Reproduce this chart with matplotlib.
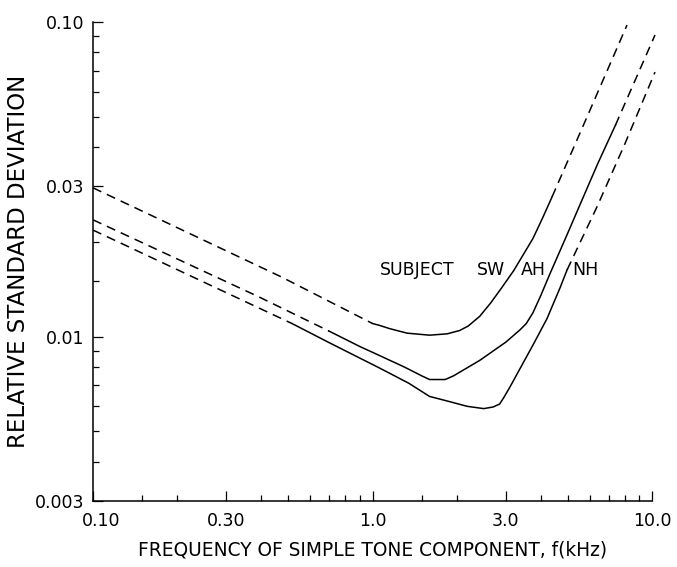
import matplotlib
matplotlib.use("Agg")
import matplotlib.pyplot as plt
import matplotlib.transforms as mtransforms
from matplotlib.ticker import FixedLocator, FixedFormatter, NullFormatter

# relative standard deviation vs. frequency, three subjects
# each curve: dashed (extrapolated) low end, solid measured part, dashed high end
sw_lo_f = [0.10, 0.47, 1.00]
sw_lo_sd = [0.0297, 0.0155, 0.0110]
sw_mid_f = [1.00, 1.06, 1.15, 1.33, 1.60, 1.85, 2.05, 2.20, 2.42, 2.65, 2.90,
            3.20, 3.50, 3.75, 4.05, 4.39]
sw_mid_sd = [0.0110, 0.01085, 0.0106, 0.01025, 0.0101, 0.0102, 0.01045, 0.0108,
             0.0116, 0.0128, 0.0143, 0.0162, 0.0185, 0.0205, 0.0237, 0.0278]
sw_hi_f = [4.39, 5.86, 8.14]
sw_hi_sd = [0.0278, 0.0500, 0.0978]

ah_lo_f = [0.10, 0.39, 0.70]
ah_lo_sd = [0.0235, 0.0134, 0.0104]
ah_mid_f = [0.70, 0.90, 1.06, 1.30, 1.50, 1.60, 1.82, 1.95, 2.42, 3.00, 3.37,
            3.55, 3.75, 4.00, 4.31, 4.97, 5.52, 6.40, 7.40]
ah_mid_sd = [0.0104, 0.0093, 0.0087, 0.0080, 0.0075, 0.0073, 0.0073, 0.0075,
             0.0084, 0.0096, 0.0105, 0.0110, 0.0119, 0.0135, 0.0158, 0.0211,
             0.0262, 0.0355, 0.0470]
ah_hi_f = [7.40, 10.25]
ah_hi_sd = [0.0470, 0.0909]

nh_lo_f = [0.10, 0.515]
nh_lo_sd = [0.0218, 0.0110]
nh_mid_f = [0.515, 0.705, 1.06, 1.35, 1.60, 1.90, 2.18, 2.50, 2.70, 2.85, 2.95,
            3.10, 3.37, 3.80, 4.21, 4.69, 4.97]
nh_mid_sd = [0.0110, 0.00953, 0.00794, 0.0071, 0.00645, 0.0062, 0.0060, 0.0059,
             0.00597, 0.0061, 0.0064, 0.0069, 0.0079, 0.0096, 0.0114, 0.0143,
             0.0163]
nh_hi_f = [4.97, 6.35, 8.00, 10.25]
nh_hi_sd = [0.0163, 0.0258, 0.041, 0.0693]

x_major = [0.1, 0.3, 1.0, 3.0, 10.0]
x_major_labels = ["0.10", "0.30", "1.0", "3.0", "10.0"]
x_minor = [0.15, 0.2, 0.4, 0.5, 0.6, 0.7, 0.8, 0.9,
           1.5, 2, 4, 5, 6, 7, 8, 9]
y_major = [0.003, 0.01, 0.03, 0.1]
y_major_labels = ["0.003", "0.01", "0.03", "0.10"]
y_minor = [0.004, 0.005, 0.006, 0.007, 0.008, 0.009, 0.015, 0.02,
           0.04, 0.05, 0.06, 0.07, 0.08, 0.09]

plt.rcParams['font.family'] = ['DejaVu Sans']

fig = plt.figure(figsize=(6.77, 5.67), dpi=100)
ax = fig.add_axes([93 / 677, 1 - 501 / 567, 559 / 677, 479 / 567])

lw = 1.1
dash = (6, 4)
for lo_f, lo_sd, mid_f, mid_sd, hi_f, hi_sd in [
        (sw_lo_f, sw_lo_sd, sw_mid_f, sw_mid_sd, sw_hi_f, sw_hi_sd),
        (ah_lo_f, ah_lo_sd, ah_mid_f, ah_mid_sd, ah_hi_f, ah_hi_sd),
        (nh_lo_f, nh_lo_sd, nh_mid_f, nh_mid_sd, nh_hi_f, nh_hi_sd)]:
    ax.plot(lo_f, lo_sd, color='black', lw=lw, dashes=dash, clip_on=False)
    ax.plot(mid_f, mid_sd, color='black', lw=lw, clip_on=False)
    ax.plot(hi_f, hi_sd, color='black', lw=lw, dashes=dash, clip_on=False)

ax.set_xscale('log')
ax.set_yscale('log')
ax.set_xlim(0.1, 10)
ax.set_ylim(0.003, 0.1)

ax.xaxis.set_major_locator(FixedLocator(x_major))
ax.xaxis.set_major_formatter(FixedFormatter(x_major_labels))
ax.xaxis.set_minor_locator(FixedLocator(x_minor))
ax.xaxis.set_minor_formatter(NullFormatter())
ax.yaxis.set_major_locator(FixedLocator(y_major))
ax.yaxis.set_major_formatter(FixedFormatter(y_major_labels))
ax.yaxis.set_minor_locator(FixedLocator(y_minor))
ax.yaxis.set_minor_formatter(NullFormatter())

for side in ['top', 'right']:
    ax.spines[side].set_visible(False)
for side in ['left', 'bottom']:
    ax.spines[side].set_linewidth(1.1)

ax.tick_params(which='both', direction='in', top=False, right=False, width=0.9)
ax.tick_params(which='major', length=7)
ax.tick_params(which='minor', length=4)
ax.tick_params(axis='x', which='major', labelsize=12.5, pad=8)
ax.tick_params(axis='y', which='major', labelsize=12.5, pad=6)

# first frequency label sits a little right so it clears 0.003
first = ax.get_xticklabels()[0]
first.set_transform(first.get_transform() +
                    mtransforms.ScaledTranslation(6 / 72, 0, fig.dpi_scale_trans))

ax.set_xlabel('FREQUENCY OF SIMPLE TONE COMPONENT, f(kHz)', fontsize=13.4)
ax.xaxis.set_label_coords(0.5, -0.083)
ax.set_ylabel('RELATIVE STANDARD DEVIATION', fontsize=16.5)
ax.yaxis.set_label_coords(-0.113, 0.5)

# subject key written across the rising branches
ax.text(1.06, 0.0163, 'SUBJECT', fontsize=12.5, va='center', ha='left')
ax.text(2.37, 0.0163, 'SW', fontsize=12.5, va='center', ha='left')
ax.text(3.40, 0.0163, 'AH', fontsize=12.5, va='center', ha='left')
ax.text(5.20, 0.0163, 'NH', fontsize=12.5, va='center', ha='left')

fig.savefig('out.png', dpi=100)
